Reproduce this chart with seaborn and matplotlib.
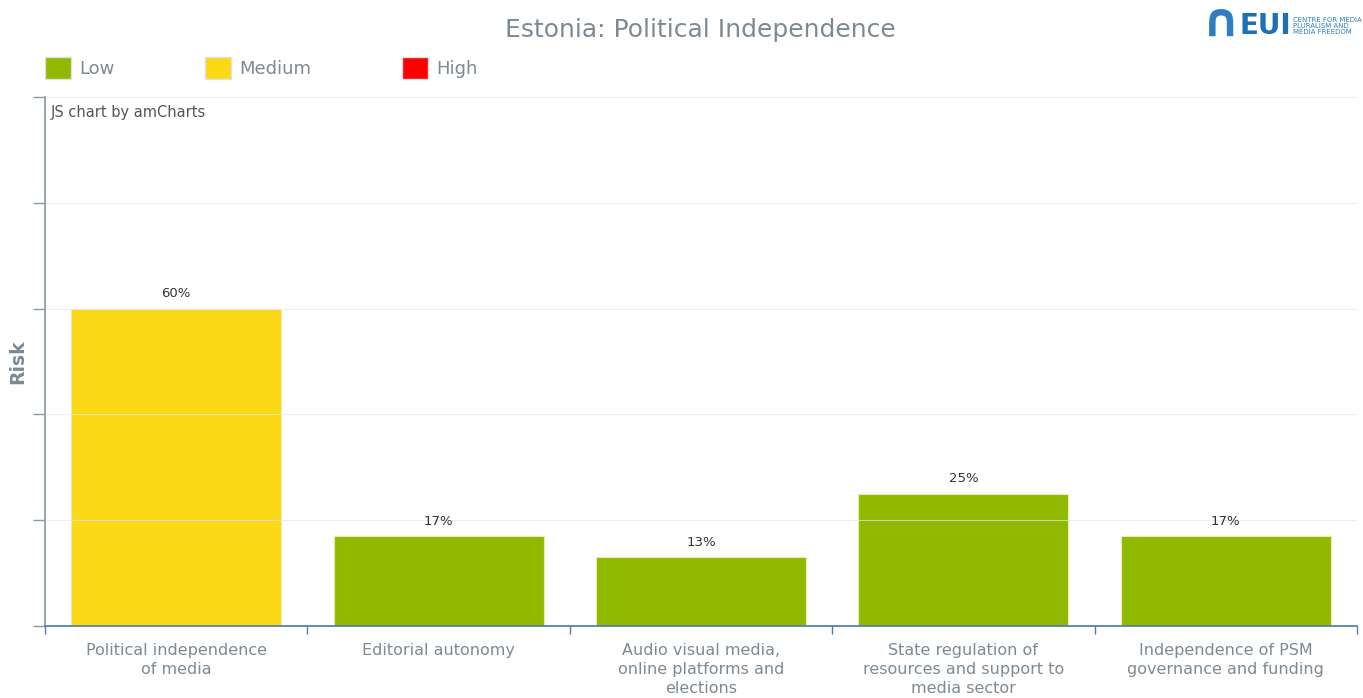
import pandas as pd
import matplotlib
matplotlib.use("Agg")
import matplotlib.pyplot as plt
import seaborn as sns
from matplotlib.patches import Patch

#Datos del grafico
categorias = [
    "Political independence\nof media",
    "Editorial autonomy",
    "Audio visual media,\nonline platforms and\nelections",
    "State regulation of\nresources and support to\nmedia sector",
    "Independence of PSM\ngovernance and funding",
]
riesgo = [60, 17, 13, 25, 17]
nivel = ["Medium", "Low", "Low", "Low", "Low"]
niveles = ["Low", "Medium", "High"]
colores = {"Low": "#8fba00", "Medium": "#fcd917", "High": "#ff0000"}
y_ticks = [0, 20, 40, 60, 80, 100]

df = pd.DataFrame({"categoria": categorias, "riesgo": riesgo, "nivel": nivel})

gris = "#7d8a93"

sns.set_theme(style="white")
plt.rcParams['font.family'] = ['DejaVu Sans']

fig = plt.figure(figsize=(13.63, 6.98), dpi=100)
ax = fig.add_axes([0.033, 0.103, 0.9626, 0.758])

sns.barplot(data=df, x="categoria", y="riesgo", hue="nivel", palette=colores,
            order=categorias, dodge=False, width=0.8, legend=False, saturation=1,
            edgecolor="#f2e6b0", linewidth=0.8, ax=ax, zorder=2)

#Etiquetas de valor
for i, v in enumerate(riesgo):
    ax.text(i, v + 1.6, f"{v}%", ha="center", va="bottom", fontsize=9.5, color="#333333")

ax.set_ylim(0, 100)
ax.set_xlim(-0.5, len(categorias) - 0.5)
ax.set_yticks(y_ticks)
ax.set_yticklabels([])
ax.yaxis.grid(True, color="#e6e6e6", linewidth=0.8, alpha=0.7, zorder=3)
ax.set_axisbelow(False)

#Ticks en los limites de las categorias, etiquetas centradas
ax.set_xticks([i - 0.5 for i in range(len(categorias) + 1)])
ax.set_xticklabels([])
ax.set_xticks(range(len(categorias)), minor=True)
ax.set_xticklabels(categorias, minor=True, fontsize=11.5, color=gris, linespacing=1.3)
ax.tick_params(axis="x", which="major", bottom=True, length=6, width=1, color="#4d7ea8", direction="out")
ax.tick_params(axis="x", which="minor", bottom=False, length=0, pad=12.5)
ax.tick_params(axis="y", left=True, length=9, width=1, color="#8c9aa3", direction="out")

for s in ["top", "right"]:
    ax.spines[s].set_visible(False)
ax.spines["left"].set_color("#8c9aa3")
ax.spines["bottom"].set_color("#4d7ea8")
ax.spines["bottom"].set_zorder(4)

ax.set_xlabel("")
ax.set_ylabel("Risk", fontsize=13.5, fontweight="bold", color=gris)
ax.yaxis.set_label_coords(-0.0135, 0.5)

ax.text(0.004, 0.97, "JS chart by amCharts", transform=ax.transAxes,
        fontsize=10.5, color="#555555", va="center", ha="left")

#Titulo
fig.text(0.5136, 0.957, "Estonia: Political Independence", ha="center", va="center",
         fontsize=18, color=gris)

#Leyenda
handles = [Patch(facecolor=colores[n], edgecolor="#e0e0e0", label=n) for n in niveles]
leg = fig.legend(handles=handles, loc="center left", bbox_to_anchor=(0.033, 0.9026),
                 ncol=3, frameon=False, fontsize=13, handlelength=1.45, handleheight=1.45,
                 columnspacing=5.0, handletextpad=0.45, borderpad=0, borderaxespad=0)
for t in leg.get_texts():
    t.set_color(gris)

#Logo EUI (aproximado con texto)
fig.text(0.896, 0.966, "\u2229", ha="center", va="center", fontsize=34,
         color="#2f7ec1", fontweight="bold")
fig.text(0.928, 0.963, "EUI", ha="center", va="center", fontsize=20,
         color="#1f6fb5", fontweight="bold")
fig.text(0.949, 0.963, "CENTRE FOR MEDIA\nPLURALISM AND\nMEDIA FREEDOM", ha="left",
         va="center", fontsize=5, color="#2f7ec1", linespacing=1.05)

fig.savefig("out.png", dpi=100)
